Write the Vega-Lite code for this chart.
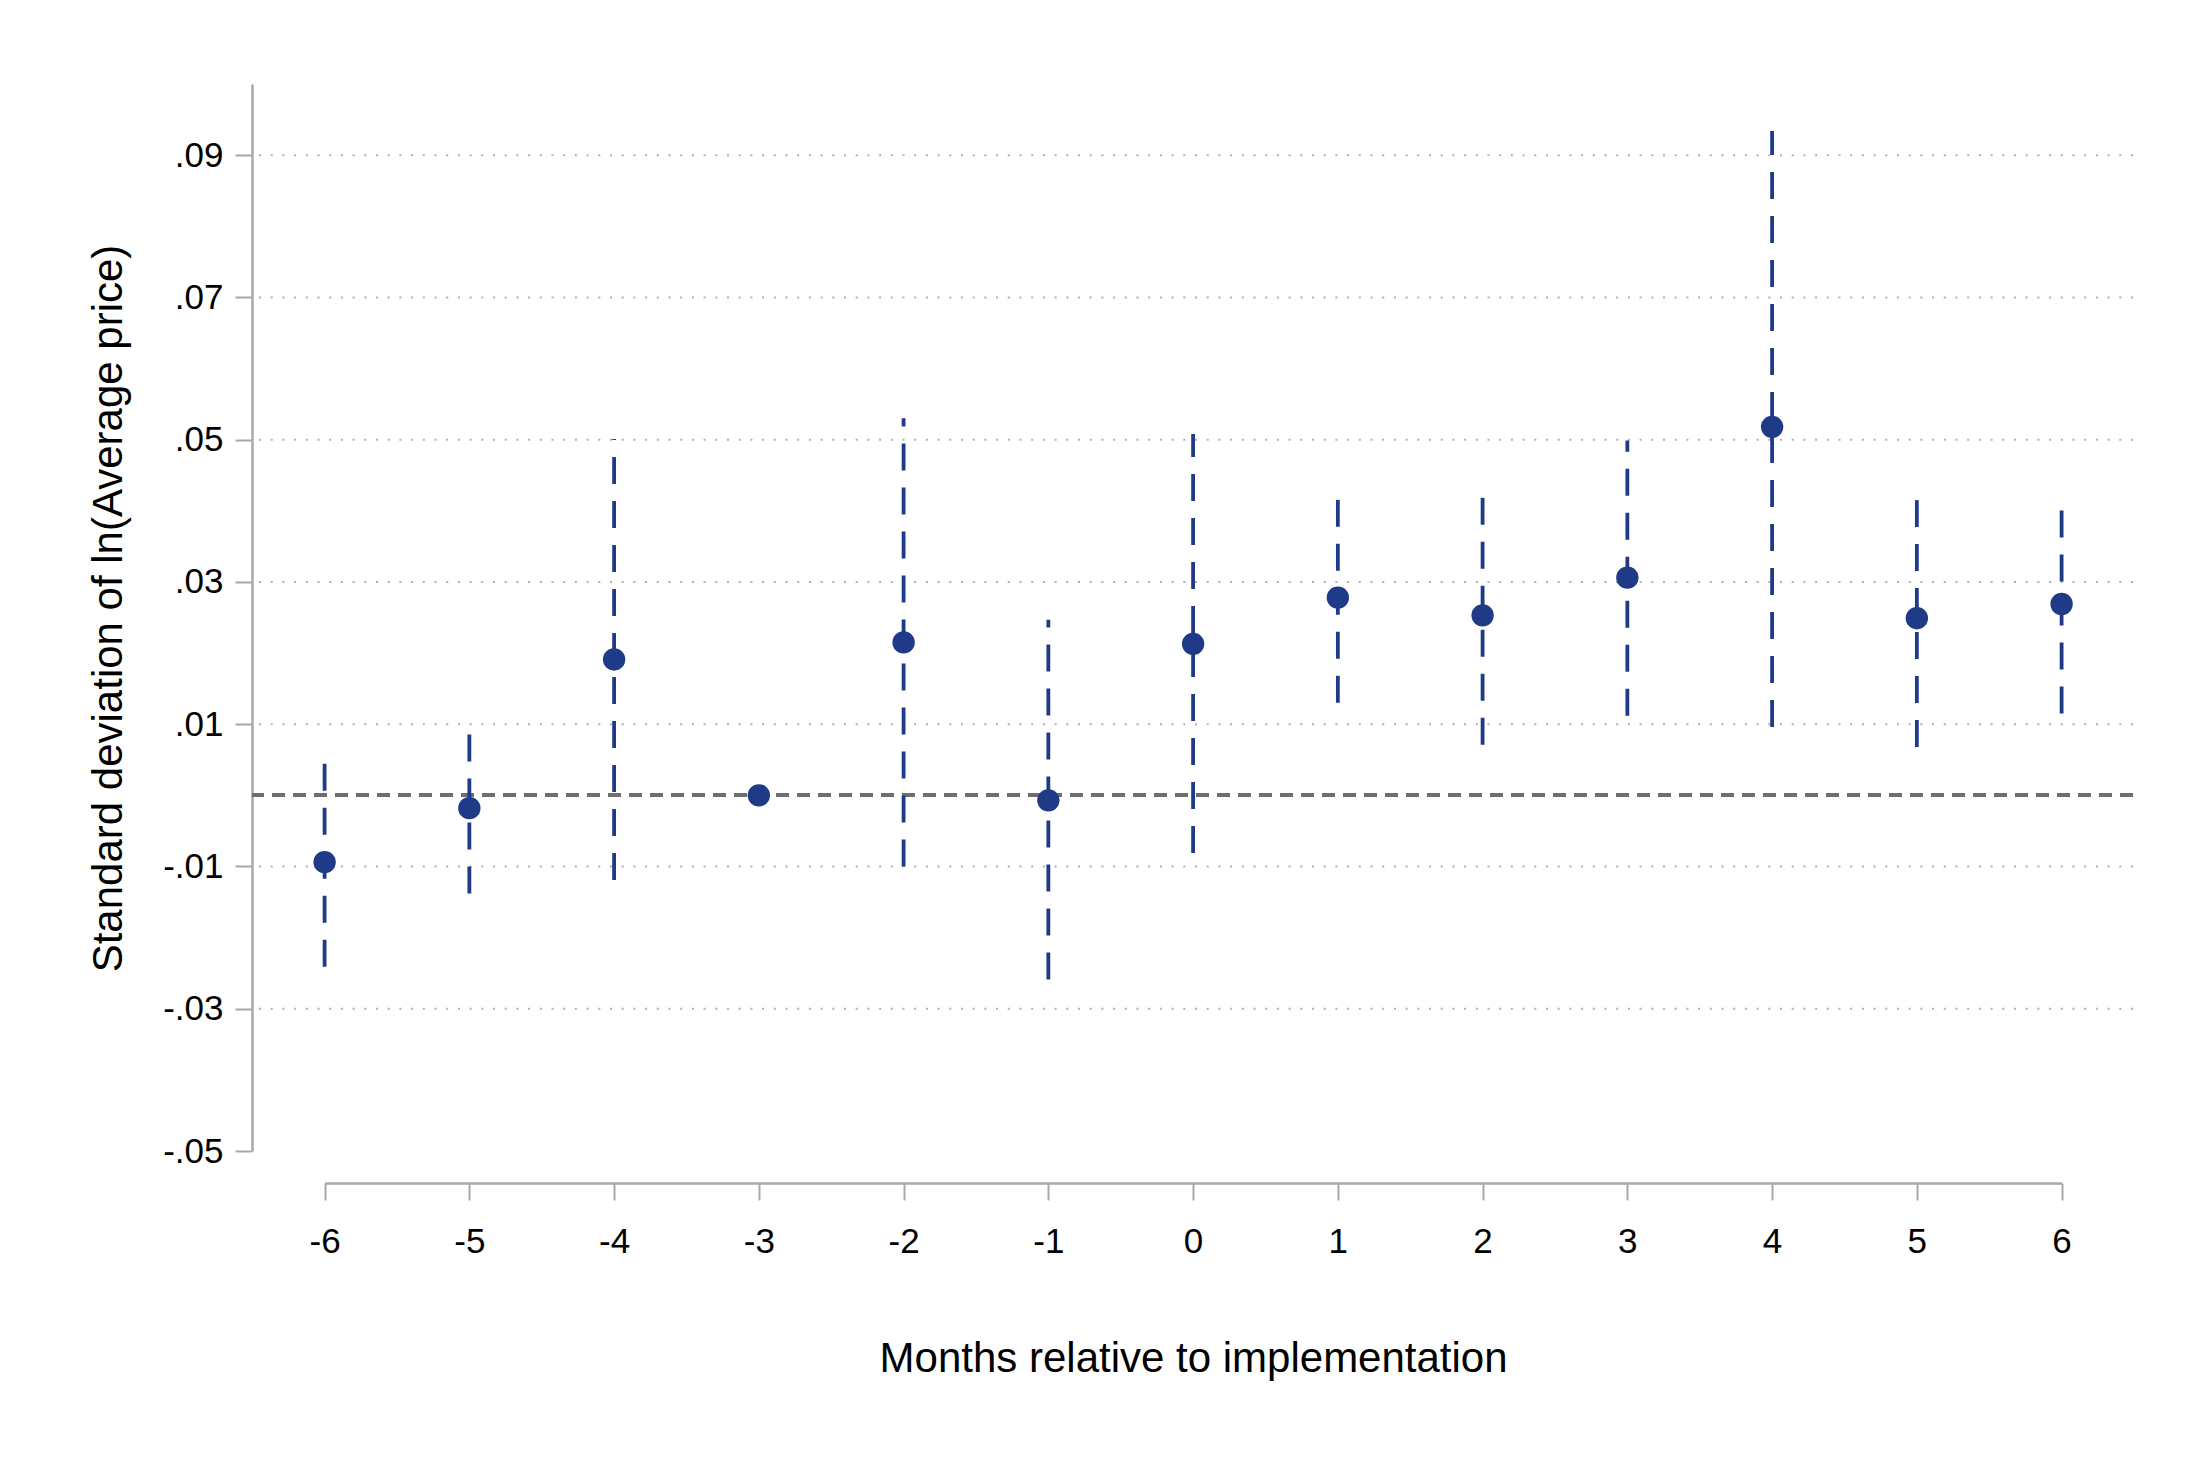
{
  "$schema": "https://vega.github.io/schema/vega-lite/v6.json",
  "width": 1881,
  "height": 1067,
  "autosize": {"type": "none"},
  "padding": {"left": 252, "top": 84, "right": 53, "bottom": 307},
  "background": "white",
  "config": {
    "view": {"stroke": null},
    "font": "Liberation Sans, Arial, sans-serif"
  },
  "data": {
    "values": [
      {"month": -6, "est": -0.0094, "lo": -0.0241, "hi": 0.0046},
      {"month": -5, "est": -0.0018, "lo": -0.0138, "hi": 0.0088},
      {"month": -4, "est": 0.0191, "lo": -0.0119, "hi": 0.0501},
      {"month": -3, "est": 0.0, "lo": null, "hi": null},
      {"month": -2, "est": 0.0215, "lo": -0.0100, "hi": 0.0530},
      {"month": -1, "est": -0.0007, "lo": -0.0259, "hi": 0.0247},
      {"month": 0, "est": 0.0213, "lo": -0.0081, "hi": 0.0508},
      {"month": 1, "est": 0.0278, "lo": 0.0130, "hi": 0.0417},
      {"month": 2, "est": 0.0253, "lo": 0.0071, "hi": 0.0419},
      {"month": 3, "est": 0.0306, "lo": 0.0112, "hi": 0.0499},
      {"month": 4, "est": 0.0518, "lo": 0.0096, "hi": 0.0934},
      {"month": 5, "est": 0.0249, "lo": 0.0068, "hi": 0.0415},
      {"month": 6, "est": 0.0269, "lo": 0.0115, "hi": 0.0403}
    ]
  },
  "layer": [
    {
      "data": {"values": [{"g": -0.03}, {"g": -0.01}, {"g": 0.01}, {"g": 0.03}, {"g": 0.05}, {"g": 0.07}, {"g": 0.09}]},
      "mark": {"type": "rule", "color": "#b0b0b0", "strokeWidth": 2, "strokeDash": [2, 9.7]},
      "encoding": {
        "y": {
          "field": "g",
          "type": "quantitative",
          "scale": {"domain": [-0.05, 0.1], "nice": false, "zero": false},
          "axis": {
            "values": [-0.05, -0.03, -0.01, 0.01, 0.03, 0.05, 0.07, 0.09],
            "labelExpr": "(datum.value < 0 ? '-' : '') + replace(format(abs(datum.value), '.2f'), '0.', '.')",
            "labelFlush": false,
            "title": "Standard deviation of ln(Average price)",
            "grid": false,
            "domainColor": "#a8a8a8",
            "domainWidth": 2.5,
            "tickColor": "#a8a8a8",
            "tickWidth": 2,
            "tickSize": 17,
            "labelFontSize": 35,
            "labelColor": "black",
            "labelPadding": 12,
            "titleFontSize": 42,
            "titleFontWeight": "normal",
            "titleColor": "black",
            "titleX": -131,
            "titleY": 524,
            "titleAngle": -90,
            "titleBaseline": "alphabetic",
            "titleAlign": "center"
          }
        }
      }
    },
    {
      "mark": {"type": "rule", "color": "#6e6e6e", "strokeWidth": 3, "strokeDash": [13, 8]},
      "encoding": {
        "y": {"datum": 0, "type": "quantitative"}
      }
    },
    {
      "transform": [{"filter": "isValid(datum.lo)"}],
      "mark": {"type": "rule", "color": "#1f3b87", "strokeWidth": 3.8, "strokeDash": [27, 17]},
      "encoding": {
        "x": {
          "field": "month",
          "type": "quantitative",
          "scale": {"domain": [-6, 6], "range": [72.6, 1809.6], "nice": false, "zero": false},
          "axis": {
            "values": [-6, -5, -4, -3, -2, -1, 0, 1, 2, 3, 4, 5, 6],
            "labelExpr": "'' + datum.value",
            "labelFlush": false,
            "offset": 32,
            "grid": false,
            "domainColor": "#a8a8a8",
            "domainWidth": 2.5,
            "tickColor": "#a8a8a8",
            "tickWidth": 2,
            "tickSize": 17,
            "labelFontSize": 35,
            "labelColor": "black",
            "labelPadding": 24,
            "title": "Months relative to implementation",
            "titleFontSize": 42,
            "titleFontWeight": "normal",
            "titleColor": "black",
            "titleY": 188,
            "titleBaseline": "alphabetic"
          }
        },
        "y": {"field": "lo", "type": "quantitative"},
        "y2": {"field": "hi"}
      }
    },
    {
      "mark": {"type": "point", "shape": "circle", "filled": true, "opacity": 1, "color": "#1f3b87", "size": 500},
      "encoding": {
        "x": {"field": "month", "type": "quantitative"},
        "y": {"field": "est", "type": "quantitative"}
      }
    }
  ]
}
